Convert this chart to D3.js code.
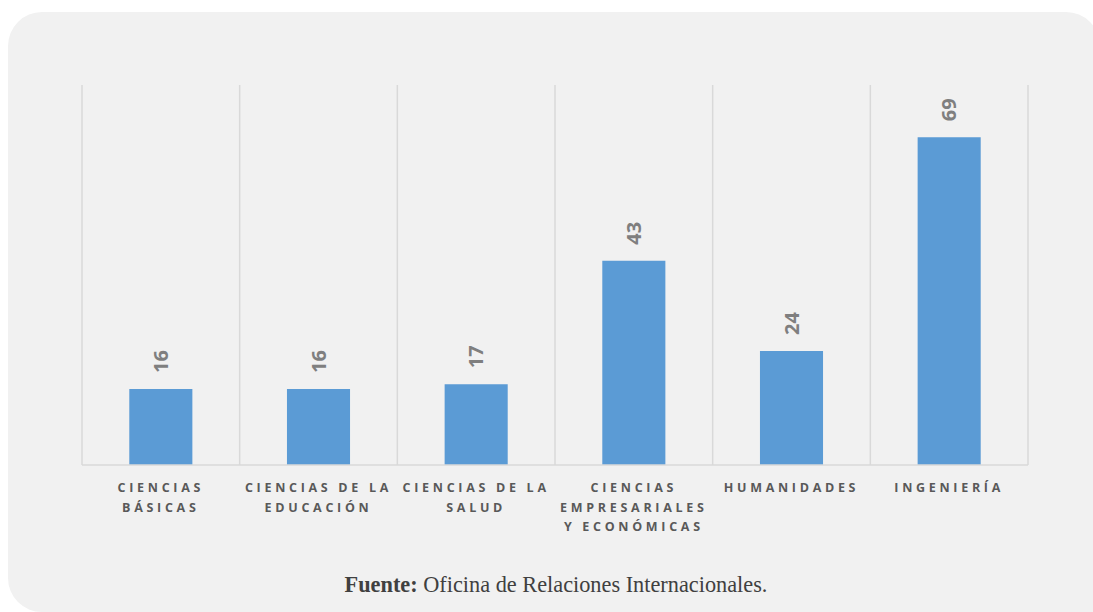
<!DOCTYPE html>
<html>
<head>
<meta charset="utf-8">
<script src="https://cdn.jsdelivr.net/npm/d3@7"></script>
<style>
  html, body { margin: 0; padding: 0; background: #ffffff; }
  svg { display: block; }
</style>
</head>
<body>
<svg id="chart" width="1093" height="612"></svg>
<script>
// Movilidad por facultad
const categories = [
  "Ciencias Básicas",
  "Ciencias de la Educación",
  "Ciencias de la Salud",
  "Ciencias Empresariales y Económicas",
  "Humanidades",
  "Ingeniería"
];
const categoryLines = [
  ["CIENCIAS", "BÁSICAS"],
  ["CIENCIAS DE LA", "EDUCACIÓN"],
  ["CIENCIAS DE LA", "SALUD"],
  ["CIENCIAS", "EMPRESARIALES", "Y ECONÓMICAS"],
  ["HUMANIDADES"],
  ["INGENIERÍA"]
];
const values = [16, 16, 17, 43, 24, 69];
const yMax = 80;
const sourceBold = "Fuente:";
const sourceText = " Oficina de Relaciones Internacionales.";

const svg = d3.select("#chart");

// card background: rounded corners, the lower right one runs past the frame
const r = 34, L = 8, T = 12, R = 1100, B = 612;
const card = d3.path();
card.moveTo(L + r, T);
card.lineTo(R - r, T);
card.arcTo(R, T, R, T + r, r);
card.lineTo(R, B + 20);
card.lineTo(L + r, B + 20);
card.lineTo(L + r, B);
card.arcTo(L, B, L, B - r, r);
card.lineTo(L, T + r);
card.arcTo(L, T, L + r, T, r);
card.closePath();
svg.append("path")
  .attr("d", card.toString())
  .attr("fill", "#f1f1f1");
svg.append("rect")
  .attr("x", L + r).attr("y", B - 1)
  .attr("width", R - L - r).attr("height", 2)
  .attr("fill", "#f1f1f1");

const margin = { left: 82, right: 1028, top: 85, bottom: 465 };

const x = d3.scaleBand()
  .domain(categories)
  .range([margin.left, margin.right])
  .paddingInner(0.6)
  .paddingOuter(0.3);

const y = d3.scaleLinear()
  .domain([0, yMax])
  .range([margin.bottom, margin.top]);

// category separators
const g = svg.append("g");
const bounds = d3.range(categories.length + 1).map(i => margin.left + i * (margin.right - margin.left) / categories.length);
g.selectAll("line.sep")
  .data(bounds)
  .join("line")
  .attr("class", "sep")
  .attr("x1", d => d).attr("x2", d => d)
  .attr("y1", margin.top).attr("y2", margin.bottom)
  .attr("stroke", "#d9d9d9")
  .attr("stroke-width", 1.5);

// bars
g.selectAll("rect.bar")
  .data(values)
  .join("rect")
  .attr("class", "bar")
  .attr("x", (d, i) => x(categories[i]))
  .attr("width", x.bandwidth())
  .attr("y", d => y(d))
  .attr("height", d => y(0) - y(d))
  .attr("fill", "#5b9bd5");

// baseline
g.append("line")
  .attr("x1", margin.left).attr("x2", margin.right)
  .attr("y1", y(0)).attr("y2", y(0))
  .attr("stroke", "#d9d9d9")
  .attr("stroke-width", 1.5);

// value labels (rotated)
g.selectAll("text.val")
  .data(values)
  .join("text")
  .attr("class", "val")
  .attr("transform", (d, i) => {
    const cx = x(categories[i]) + x.bandwidth() / 2;
    return `translate(${cx + 7},${y(d) - 16}) rotate(-90)`;
  })
  .attr("text-anchor", "start")
  .attr("font-family", "'Open Sans', sans-serif")
  .attr("font-weight", 700)
  .attr("font-size", 20)
  .attr("fill", "#7f7f7f")
  .text(d => d);

// category labels
const lab = g.selectAll("text.cat")
  .data(categoryLines)
  .join("text")
  .attr("class", "cat")
  .attr("text-anchor", "middle")
  .attr("font-family", "'Open Sans', sans-serif")
  .attr("font-weight", 700)
  .attr("font-size", 12.5)
  .attr("letter-spacing", "3.7px")
  .attr("fill", "#595959");

lab.each(function(lines, i) {
  const cx = x(categories[i]) + x.bandwidth() / 2;
  d3.select(this).selectAll("tspan")
    .data(lines)
    .join("tspan")
    .attr("x", cx)
    .attr("y", (l, j) => 492 + j * 19.5)
    .text(l => l);
});

// source note
const src = svg.append("text")
  .attr("x", 556).attr("y", 592)
  .attr("text-anchor", "middle")
  .attr("font-family", "'Liberation Serif', serif")
  .attr("font-size", 22.3)
  .attr("fill", "#404040");
src.append("tspan").attr("font-weight", 700).text(sourceBold);
src.append("tspan").text(sourceText);
</script>
</body>
</html>
